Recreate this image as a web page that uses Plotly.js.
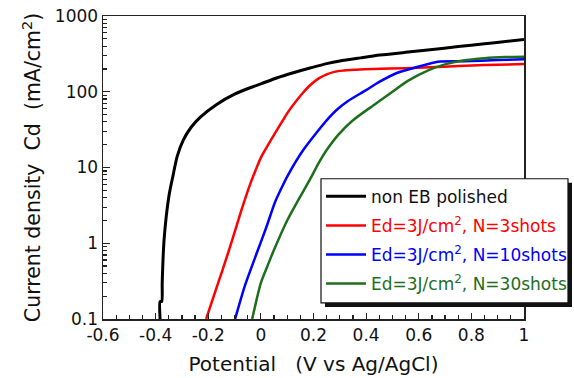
<!DOCTYPE html>
<html>
<head>
<meta charset="utf-8">
<script src="https://cdn.plot.ly/plotly-3.0.1.min.js"></script>
<style>html,body{margin:0;padding:0;background:#fff;}#chart{width:574px;height:378px;}</style>
</head>
<body>
<div id="chart"></div>
<script>
// Potential (V vs Ag/AgCl) and current density (mA/cm^2)
const blackV = [-0.383,-0.383,-0.377,-0.375,-0.372,-0.368,-0.36,-0.348,-0.335,-0.318,-0.295,-0.265,-0.231,-0.168,-0.1,-0.041,0.0,0.06,0.123,0.19,0.25,0.3,0.377,0.453,0.55,0.643,0.75,0.85,0.93,1.0];
const blackI = [0.1,0.17,0.17,0.3,0.6,1.1,2.2,4.5,7.5,14,23,34,46,68,93,113,127,152,178,207,235,255,280,305,332,358,395,430,460,490];

const redV = [-0.208,-0.17,-0.13,-0.09,-0.073,-0.041,-0.02,0.0,0.022,0.05,0.08,0.105,0.135,0.16,0.187,0.22,0.25,0.28,0.31,0.36,0.426,0.55,0.643,0.75,0.85,1.0];
const redI = [0.1,0.25,0.65,1.8,2.8,6.0,9.2,13.5,18.5,27,40,55,76,97,122,150,170,183,190,195,200,205,210,218,225,232];

const blueV = [-0.098,-0.06,-0.011,0.02,0.054,0.08,0.1,0.161,0.225,0.25,0.294,0.33,0.4,0.45,0.517,0.6,0.673,0.77,0.9,1.0];
const blueI = [0.1,0.28,0.82,1.6,3.5,5.5,7.6,17,33,42,60,75,105,135,177,215,249,253,262,268];

const greenV = [-0.033,0.0,0.025,0.05,0.1,0.142,0.187,0.22,0.25,0.294,0.35,0.427,0.5,0.56,0.64,0.7,0.768,0.85,0.93,1.0];
const greenI = [0.1,0.3,0.5,0.82,2.0,3.7,7.0,11.5,17,27,42,66,100,140,195,230,258,277,287,290];

const seriesNames = [
  'non EB polished',
  '<span style="color:#ff0000">Ed=3J/cm<sup>2</sup>, N=3shots</span>',
  '<span style="color:#0000ff">Ed=3J/cm<sup>2</sup>, N=10shots</span>',
  '<span style="color:#1e6e1e">Ed=3J/cm<sup>2</sup>, N=30shots</span>'
];
const xTickVals = [-0.6,-0.4,-0.2,0,0.2,0.4,0.6,0.8,1];
const xTickText = ['-0.6','-0.4','-0.2','0','0.2','0.4','0.6','0.8','1'];
const yTickVals = [0.1,1,10,100,1000];
const yTickText = ['0.1','1','10','100','1000'];
const yMinorVals = [0.2,0.3,0.4,0.5,0.6,0.7,0.8,0.9,2,3,4,5,6,7,8,9,20,30,40,50,60,70,80,90,200,300,400,500,600,700,800,900];

const colors = ['#000000','#ff0000','#0000ff','#1e6e1e'];
const widths = [3,2.5,2.5,2.5];
const xs = [blackV, redV, blueV, greenV];
const ys = [blackI, redI, blueI, greenI];

const traces = xs.map((x,i)=>({
  x: x, y: ys[i], type:'scatter', mode:'lines', name: seriesNames[i],
  legendgroup: 'g'+i,
  line:{color:colors[i], width:widths[i], shape:'spline', smoothing:0.7}
}));

const F = 'DejaVu Sans, Arial, sans-serif';
const px2x = p => (p-103)/421;
const px2y = p => (319-p)/302.5;

const layout = {
  width:574, height:378,
  margin:{l:103, r:50, t:16, b:59, autoexpand:false},
  paper_bgcolor:'#ffffff', plot_bgcolor:'#ffffff',
  font:{family:F, size:16, color:'#111'},
  showlegend:true,
  legend:{
    x: px2x(321), y: px2y(179), xanchor:'left', yanchor:'top',
    bgcolor:'rgba(0,0,0,0)', borderwidth:0,
    font:{family:F, size:17, color:'#111'},
    itemwidth:40, tracegroupgap:4, traceorder:'grouped'
  },
  xaxis:{
    range:[-0.6,1], tickmode:'array', tickvals:xTickVals, ticktext:xTickText,
    ticks:'inside', ticklen:6, tickwidth:1.2, tickcolor:'#222',
    minor:{dtick:0.05, ticks:'inside', ticklen:4, tickwidth:1.2, tickcolor:'#222', showgrid:false},
    showline:true, linecolor:'#222', linewidth:1.5, mirror:true,
    showgrid:false, zeroline:false,
    tickfont:{family:F, size:17, color:'#111'},
    title:{text:'Potential\u00a0\u00a0\u00a0(V vs Ag/AgCl)', font:{family:F, size:20, color:'#111'}, standoff:13}
  },
  yaxis:{
    type:'log', range:[-1,3], tickmode:'array', tickvals:yTickVals, ticktext:yTickText,
    ticks:'inside', ticklen:7, tickwidth:1.2, tickcolor:'#222',
    minor:{tickvals:yMinorVals, ticks:'inside', ticklen:4, tickwidth:1.2, tickcolor:'#222', showgrid:false},
    showline:true, linecolor:'#222', linewidth:1.5, mirror:true,
    showgrid:false, zeroline:false,
    tickfont:{family:F, size:17, color:'#111'},
    title:{text:'Current density\u00a0\u00a0Cd\u00a0\u00a0(mA/cm<sup>2</sup>)', font:{family:F, size:20.5, color:'#111'}, standoff:8}
  },
  shapes:[
    {type:'rect', xref:'paper', yref:'paper', x0:px2x(325), x1:px2x(572), y0:px2y(307), y1:px2y(183), fillcolor:'#111', line:{width:0}, layer:'above'},
    {type:'rect', xref:'paper', yref:'paper', x0:px2x(321), x1:px2x(568), y0:px2y(303), y1:px2y(179), fillcolor:'#ffffff', line:{color:'#111', width:1.2}, layer:'above'}
  ]
};

Plotly.newPlot('chart', traces, layout, {displayModeBar:false, staticPlot:true});
</script>
</body>
</html>
